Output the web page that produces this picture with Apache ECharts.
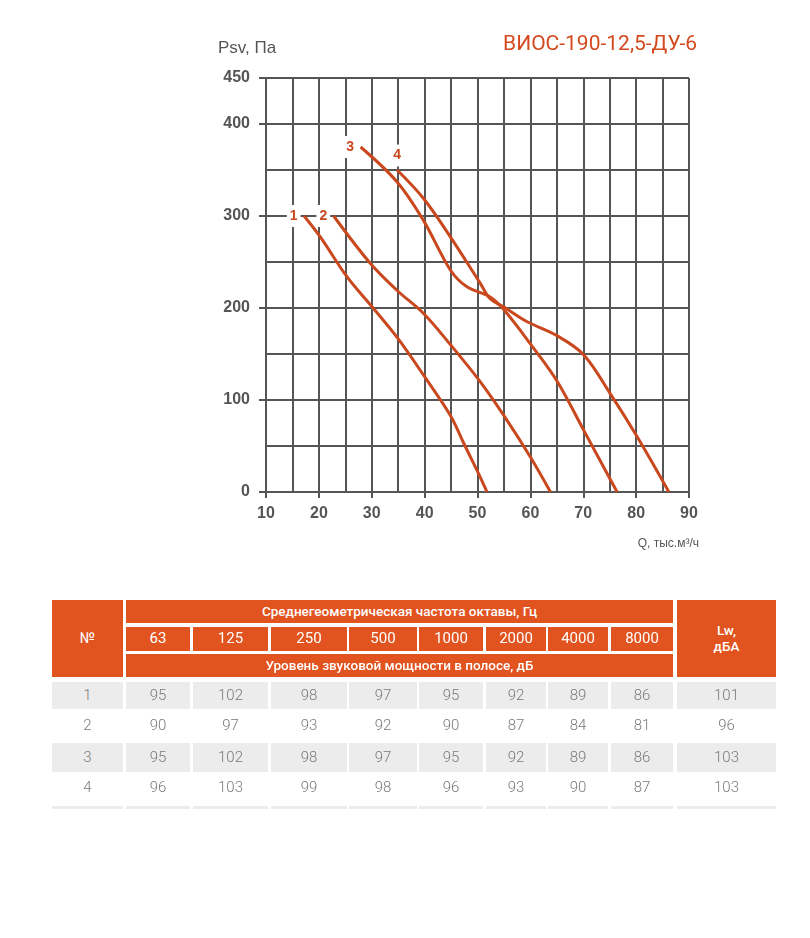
<!DOCTYPE html>
<html lang="ru">
<head>
<meta charset="utf-8" />
<title>ВИОС-190-12,5-ДУ-6</title>
<script src="https://cdn.jsdelivr.net/npm/echarts@6/dist/echarts.min.js"></script>
<style>
  html, body { margin: 0; padding: 0; background: #fff; }
  #wrap { position: relative; width: 810px; height: 938px; }
  #main { position: absolute; left: 0; top: 0; width: 810px; height: 938px; }
  .cell { position: absolute; box-sizing: border-box; display: flex; align-items: center; justify-content: center;
          font-family: Roboto, "Noto Sans", sans-serif; text-align: center; line-height: 1.15; }
  .hd { background: #e1531f; color: #fff; font-size: 13.5px; font-weight: 500; }
  .hdn { font-size: 15px; font-weight: 400; }
  .dt { color: #7a7a7a; font-size: 15px; font-weight: 300; }
  .gr { background: #ececec; }
</style>
</head>
<body>
<div id="wrap">
  <div id="main"></div>
  <div id="tbl"></div>
</div>
<script>
// P-Q curves, x = Q (тыс.м3/ч), y = Psv (Па)
var curve1 = [[17.2,300],[20.3,277],[25.3,234],[30.1,201],[34.8,168],[39.8,127],[44.9,83],[47.4,53],[50.2,20],[51.8,0]];
var curve2 = [[22.8,300],[29.8,248],[34.8,219],[39.8,194],[44.9,160],[50.5,120],[55,83],[60,38],[63.8,0]];
var curve3 = [[27.9,375],[34.8,337],[39.8,295],[44.9,241],[48,223],[52.4,212],[55,198],[60,161],[65,121],[70.1,67],[76.4,0]];
var curve4 = [[34.8,350],[39.8,319],[44.9,277],[50.5,227],[52.4,210],[55,201],[59.4,185],[65,170],[70.1,149],[75.1,107],[80.2,60],[86.2,0]];
var curveNames = ['1', '2', '3', '4'];
var xTicks = [10, 20, 30, 40, 50, 60, 70, 80, 90];
var yTicks = [0, 100, 200, 300, 400, 450];

// noise table
var freqs = ['63', '125', '250', '500', '1000', '2000', '4000', '8000'];
var rowNums = ['1', '2', '3', '4'];
var levels = [
  [95, 102, 98, 97, 95, 92, 89, 86],
  [90, 97, 93, 92, 90, 87, 84, 81],
  [95, 102, 98, 97, 95, 92, 89, 86],
  [96, 103, 99, 98, 96, 93, 90, 87]
];
var lwTotal = [101, 96, 103, 103];

var red = '#c9481d';
var gridColor = '#555555';
var curves = [curve1, curve2, curve3, curve4];
var labelPos = ['left', 'left', 'left', 'top'];

var series = curves.map(function (pts, k) {
  return {
    name: curveNames[k], type: 'line', smooth: 0.35, showSymbol: false,
    lineStyle: { color: red, width: 3 }, itemStyle: { color: red },
    data: pts, z: 5, silent: true
  };
});
// curve numbers at the start of each curve
series.push({
  type: 'scatter', symbolSize: 1, itemStyle: { color: 'rgba(0,0,0,0)' }, z: 6, silent: true,
  labelLayout: { hideOverlap: false },
  data: curves.map(function (pts, k) {
    return {
      value: pts[0],
      label: {
        show: true, position: labelPos[k], distance: 3, opacity: 1,
        formatter: curveNames[k], color: red, fontSize: 14, fontWeight: 'bold',
        fontFamily: 'Liberation Sans, Arial, sans-serif',
        backgroundColor: '#fff', padding: [4, 3]
      }
    };
  })
});

var chart = echarts.init(document.getElementById('main'));
var lineStyle = { color: gridColor, width: 2 };
chart.setOption({
  animation: false,
  grid: { left: 266, right: 121, top: 78, bottom: 446 },
  graphic: [
    { type: 'text', left: 218, top: 40, style: { text: 'Psv, Па', fill: '#555', font: '17px "Liberation Sans Narrow", "Liberation Sans", sans-serif' } },
    { type: 'text', right: 113, top: 34, style: { text: 'ВИОС-190-12,5-ДУ-6', fill: '#d4491d', font: '21px Roboto, sans-serif' } },
    { type: 'text', right: 111, top: 538, style: { text: 'Q, тыс.м³/ч', fill: '#555', font: '12px "Liberation Sans Narrow", "Liberation Sans", sans-serif' } }
  ],
  xAxis: [{
    type: 'value', min: 10, max: 90, interval: 10,
    axisLine: { show: true, lineStyle: lineStyle },
    axisTick: { show: true, customValues: xTicks, length: 6, lineStyle: lineStyle },
    axisLabel: { customValues: xTicks, margin: 14, color: '#555', fontSize: 16, fontWeight: 'bold', fontFamily: 'Liberation Sans, Arial, sans-serif' },
    splitLine: { show: false }
  }, {
    // grid lines every 5
    type: 'value', min: 10, max: 90, interval: 5, position: 'bottom',
    axisLine: { show: false }, axisTick: { show: false }, axisLabel: { show: false },
    splitLine: { show: true, lineStyle: lineStyle }
  }],
  yAxis: [{
    type: 'value', min: 0, max: 450, interval: 50,
    axisLine: { show: true, lineStyle: lineStyle },
    axisTick: { show: true, customValues: yTicks, length: 7, lineStyle: lineStyle },
    axisLabel: { customValues: yTicks, margin: 16, color: '#555', fontSize: 16, fontWeight: 'bold', fontFamily: 'Liberation Sans, Arial, sans-serif' },
    splitLine: { show: false }
  }, {
    // grid lines every 50
    type: 'value', min: 0, max: 450, interval: 50, position: 'left',
    axisLine: { show: false }, axisTick: { show: false }, axisLabel: { show: false },
    splitLine: { show: true, lineStyle: lineStyle }
  }],
  series: series
});

// table
var cols = [[52,123],[126,190],[193,268],[271,347],[349,417],[419,483],[486,546],[548,608],[611,673],[677,776]];
var rowsY = [[682,709],[712,740],[743,772],[774,802]];
var tbl = document.getElementById('tbl');
function cell(x0, x1, y0, y1, cls, html) {
  var d = document.createElement('div');
  d.className = 'cell ' + cls;
  d.style.left = x0 + 'px'; d.style.top = y0 + 'px';
  d.style.width = (x1 - x0) + 'px'; d.style.height = (y1 - y0) + 'px';
  d.innerHTML = html;
  tbl.appendChild(d);
}
cell(cols[0][0], cols[0][1], 600, 677, 'hd hdn', '№');
cell(cols[9][0], cols[9][1], 600, 677, 'hd', 'Lw,<br>дБА');
cell(cols[1][0], cols[8][1], 600, 623, 'hd', 'Среднегеометрическая частота октавы, Гц');
freqs.forEach(function (f, i) { cell(cols[i + 1][0], cols[i + 1][1], 627, 651, 'hd hdn', f); });
cell(cols[1][0], cols[8][1], 654, 677, 'hd', 'Уровень звуковой мощности в полосе, дБ');
rowNums.forEach(function (n, r) {
  var g = r % 2 === 0 ? ' gr' : '';
  var y = rowsY[r];
  cell(cols[0][0], cols[0][1], y[0], y[1], 'dt' + g, n);
  levels[r].forEach(function (v, i) { cell(cols[i + 1][0], cols[i + 1][1], y[0], y[1], 'dt' + g, v); });
  cell(cols[9][0], cols[9][1], y[0], y[1], 'dt' + g, lwTotal[r]);
});
cols.forEach(function (c) { cell(c[0], c[1], 806, 809, 'gr', ''); });
</script>
</body>
</html>
